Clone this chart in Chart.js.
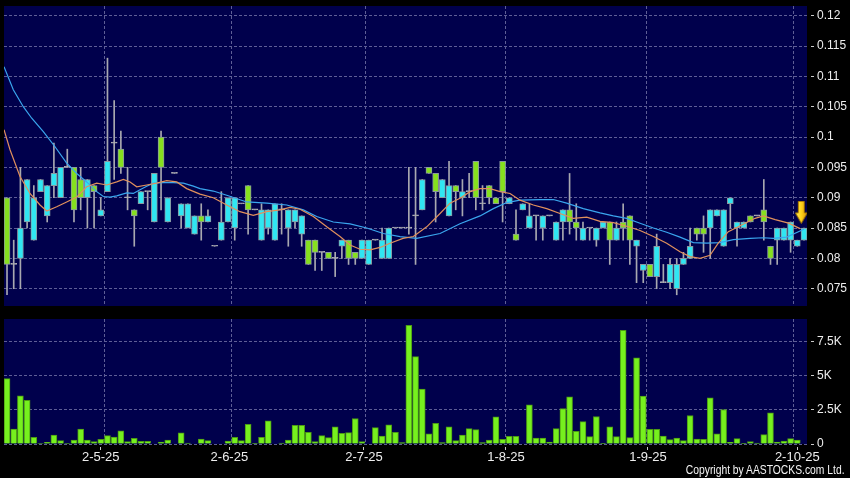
<!DOCTYPE html>
<html><head><meta charset="utf-8">
<script src="https://cdn.jsdelivr.net/npm/chart.js@4/dist/chart.umd.min.js"></script>
<style>
html,body{margin:0;padding:0;background:#000;width:850px;height:478px;overflow:hidden}
canvas{position:absolute;left:0}
#copy{position:absolute;right:5px;top:464px;color:#f4f4f4;font:12px 'Liberation Sans',Arial,sans-serif;line-height:13px;white-space:nowrap;transform:scaleX(0.86);transform-origin:right center}
</style></head><body>
<canvas id="main" width="850" height="310" style="top:0"></canvas>
<canvas id="vol" width="850" height="168" style="top:310px"></canvas>
<div id="copy">Copyright by AASTOCKS.com Ltd.</div>
<script>
// ---- data ----
const open  = [0.090,0.079,0.080,0.086,0.083,0.091,0.087,0.092,0.090,0.095,0.095,0.093,0.090,0.092,0.087,0.091,0.099,0.098,0.090,0.088,
               0.089,0.091,0.086,0.100,0.086,0.094,0.087,0.085,0.084,0.087,0.086,0.082,0.083,0.086,0.085,0.089,0.092,0.088,0.083,0.085,
               0.083,0.088,0.085,0.086,0.084,0.083,0.083,0.081,0.081,0.080,0.082,0.083,0.081,0.080,0.079,0.083,0.080,0.080,0.085,0.085,
               0.085,0.087,0.088,0.095,0.094,0.090,0.087,0.092,0.090,0.091,0.096,0.089,0.092,0.090,0.096,0.089,0.084,0.088,0.085,0.087,
               0.085,0.087,0.083,0.086,0.088,0.086,0.083,0.085,0.083,0.085,0.086,0.083,0.086,0.087,0.082,0.078,0.079,0.077,0.076,0.076,
               0.075,0.079,0.080,0.085,0.085,0.085,0.087,0.082,0.089,0.085,0.085,0.087,0.087,0.088,0.082,0.083,0.083,0.083,0.082,0.083];
const high  = [0.090,0.083,0.095,0.093,0.092,0.093,0.092,0.099,0.095,0.098,0.095,0.095,0.093,0.092,0.090,0.113,0.106,0.101,0.095,0.088,
               0.091,0.091,0.094,0.101,0.090,0.094,0.089,0.089,0.087,0.089,0.088,0.082,0.091,0.090,0.090,0.089,0.092,0.088,0.089,0.088,
               0.089,0.089,0.088,0.088,0.087,0.083,0.083,0.081,0.081,0.081,0.083,0.083,0.081,0.083,0.083,0.083,0.085,0.085,0.085,0.085,
               0.095,0.095,0.093,0.095,0.094,0.093,0.096,0.092,0.093,0.094,0.096,0.092,0.092,0.090,0.096,0.090,0.088,0.089,0.089,0.087,
               0.087,0.087,0.086,0.088,0.094,0.089,0.086,0.085,0.085,0.086,0.086,0.086,0.089,0.087,0.083,0.079,0.079,0.084,0.079,0.080,
               0.080,0.081,0.085,0.085,0.087,0.088,0.088,0.088,0.090,0.086,0.086,0.087,0.087,0.093,0.082,0.085,0.085,0.086,0.083,0.085];
const low   = [0.074,0.075,0.075,0.085,0.083,0.091,0.086,0.090,0.090,0.095,0.086,0.088,0.085,0.085,0.087,0.091,0.093,0.094,0.088,0.082,
               0.089,0.088,0.086,0.088,0.086,0.094,0.085,0.085,0.084,0.083,0.086,0.082,0.083,0.086,0.083,0.089,0.084,0.088,0.083,0.084,
               0.083,0.084,0.082,0.085,0.082,0.079,0.078,0.078,0.080,0.077,0.080,0.079,0.079,0.080,0.079,0.083,0.080,0.080,0.085,0.085,
               0.084,0.079,0.088,0.094,0.086,0.090,0.087,0.088,0.087,0.090,0.088,0.088,0.089,0.089,0.086,0.089,0.083,0.088,0.085,0.083,
               0.083,0.087,0.083,0.083,0.084,0.083,0.083,0.083,0.082,0.085,0.079,0.083,0.083,0.079,0.076,0.076,0.077,0.075,0.076,0.075,
               0.074,0.079,0.080,0.083,0.081,0.080,0.087,0.082,0.085,0.082,0.085,0.086,0.087,0.083,0.079,0.079,0.083,0.081,0.082,0.083];
const close = [0.079,0.079,0.085,0.093,0.090,0.093,0.092,0.094,0.095,0.095,0.088,0.090,0.093,0.091,0.088,0.096,0.099,0.095,0.090,0.087,
               0.091,0.091,0.094,0.095,0.090,0.094,0.089,0.089,0.087,0.086,0.087,0.082,0.086,0.090,0.090,0.089,0.088,0.088,0.088,0.088,
               0.089,0.088,0.088,0.088,0.087,0.079,0.081,0.081,0.080,0.080,0.083,0.080,0.080,0.083,0.083,0.083,0.083,0.085,0.085,0.085,
               0.085,0.087,0.093,0.094,0.091,0.093,0.092,0.091,0.091,0.091,0.090,0.089,0.090,0.089,0.091,0.090,0.083,0.089,0.087,0.087,
               0.087,0.087,0.086,0.088,0.086,0.085,0.085,0.085,0.085,0.086,0.083,0.085,0.085,0.083,0.083,0.079,0.077,0.082,0.076,0.079,
               0.079,0.080,0.082,0.084,0.084,0.088,0.088,0.088,0.090,0.086,0.086,0.086,0.087,0.086,0.080,0.085,0.085,0.086,0.083,0.085];
const volume = [4780,1100,3530,3190,490,40,120,660,245,40, 294,1100,294,170,343,612,515,955,170,416,
                196,196,0,147,294,0,808,73,0,367, 245,0,0,220,490,245,1445,49,490,1690,
                0,73,294,1372,1372,857,170,612,465,1250, 784,833,1862,170,0,1200,588,1396,857,98,
                8673,6394,4018,735,1519,98,1250,245,661,1127, 1053,98,294,1985,343,564,564,0,2866,441,
                441,147,1127,2597,3454,931,1641,539,2009,49, 1250,539,8305,465,6296,3503,1078,1078,588,318,
                441,245,2083,367,343,3381,735,2524,122,392, 49,171,73,686,2279,147,220,392,294,0];
// moving averages as (candle position, value) pairs
const maShortX = [-0.45,0.45,1.94,3.43,4.93,5.93,7.42,8.91,10.41,11.9,13.39,14.89,16.38,17.37,18.37,19.37,20.86,22.35,23.85,25.34,
                  26.83,28.82,30.8,32.81,34.79,36.78,38.78,40.76,42.26,43.75,45.74,47.74,49.72,51.22,52.71,54.2,55.7,57.19,59.13,60.67,
                  62.67,64.66,66.15,67.64,69.14,70.63,72.12,73.62,75.11,76.6,78.59,80.59,82.57,84.56,86.56,88.55,90.53,92.53,94.52,96.51,
                  98.5,100.49,101.99,103.48,104.97,106.2,107.7,109.7,111.7,112.93,114.7,116.7,118.41];
const maShortY = [0.1012,0.0979,0.0935,0.0907,0.0888,0.0878,0.0885,0.0893,0.0901,0.0918,0.0924,0.0921,0.0926,0.0930,0.0926,0.0918,0.0921,0.0924,0.0928,0.0926,
                  0.0915,0.0906,0.0900,0.0888,0.0877,0.0871,0.0877,0.0880,0.0884,0.0881,0.0869,0.0852,0.0836,0.0822,0.0815,0.0814,0.0818,0.0825,0.0833,0.0836,
                  0.0852,0.0874,0.0891,0.0899,0.0910,0.0915,0.0915,0.0910,0.0907,0.0896,0.0888,0.0882,0.0874,0.0866,0.0868,0.0861,0.0859,0.0853,0.0846,0.0836,
                  0.0825,0.0811,0.0803,0.0800,0.0805,0.0825,0.0844,0.0855,0.0866,0.0870,0.0864,0.0858,0.0849];
const maLongX  = [-0.45,0.94,2.43,3.69,5.42,7.17,8.91,10.41,11.9,13.39,14.38,15.38,16.38,17.87,18.86,19.86,20.86,21.85,23.34,24.83,
                  26.33,27.82,28.82,30.8,32.81,35.79,38.78,41.77,44.24,46.24,48.72,51.22,53.71,56.19,58.68,61.18,64.66,67.64,70.63,72.62,
                  74.62,76.6,79.59,81.57,83.57,86.05,88.55,90.53,92.53,94.52,96.51,98.5,100.49,102.48,104.48,106.46,108.45,110.94,112.93,114.43,
                  116.42,118.41,119.01];
const maLongY  = [0.1116,0.1078,0.1050,0.1031,0.1009,0.0984,0.0957,0.0940,0.0926,0.0910,0.0902,0.0901,0.0903,0.0908,0.0907,0.0913,0.0919,0.0924,0.0925,0.0925,
                  0.0924,0.0919,0.0915,0.0911,0.0904,0.0893,0.0891,0.0888,0.0880,0.0869,0.0860,0.0857,0.0850,0.0841,0.0836,0.0833,0.0841,0.0857,0.0870,0.0882,
                  0.0892,0.0896,0.0897,0.0897,0.0891,0.0882,0.0875,0.0870,0.0866,0.0858,0.0850,0.0843,0.0835,0.0826,0.0825,0.0826,0.0831,0.0833,0.0834,0.0833,
                  0.0835,0.0845,0.0848];
const priceTicks = [0.075,0.08,0.085,0.09,0.095,0.1,0.105,0.11,0.115,0.12];
const volTicks = [0,2500,5000,7500];
const volTickLabels = ['0','2.5K','5K','7.5K'];
const monthLabels = ['2-5-25','2-6-25','2-7-25','1-8-25','1-9-25','2-10-25'];
const monthGridPos = [14.5,33.5,53.5,74.5,95.5,117.5];
const monthLabelPos = [14,33.2,53.3,74.5,95.7,118];
const arrowMark = {x:118.6, y:0.0876};

// ---- styling ----
const NAVY='#00004c', GRID='#5e5e96', UP='#30e6f2', DOWN='#86e01e', DOJI='#b0b0b4', EDGE='#8a98a0', WICK='#a8a8b0';
const VOLFILL='#76f01e', VOLEDGE='#4c9a14', LBL='#eeeeee';
const X_MIN=-0.45, X_MAX=119.45;
const fontY={family:'Liberation Sans', size:12};
const fontX={family:'Liberation Sans', size:13};
const noPad = s => { s.paddingTop=0; s.paddingBottom=0; s.paddingLeft=0; s.paddingRight=0; };

const bg={id:'bg',beforeDraw(c){const {ctx,chartArea:a}=c;ctx.save();ctx.fillStyle='#000';ctx.fillRect(0,0,c.width,c.height);
  ctx.fillStyle=NAVY;ctx.fillRect(a.left,a.top,a.right-a.left,a.bottom-a.top);ctx.restore();}};

function arrowImg(){const c=document.createElement('canvas');c.width=13;c.height=23;const g=c.getContext('2d');
  const gr=g.createLinearGradient(0,0,13,0);gr.addColorStop(0,'#fff060');gr.addColorStop(0.5,'#ffd21a');gr.addColorStop(1,'#d89000');
  g.beginPath();g.moveTo(3.5,0.5);g.lineTo(9.5,0.5);g.lineTo(9.5,12);g.lineTo(12.5,12);g.lineTo(6.5,22.5);g.lineTo(0.5,12);g.lineTo(3.5,12);g.closePath();
  g.fillStyle=gr;g.fill();g.strokeStyle='#a07000';g.lineWidth=1;g.stroke();return c;}

const idx = open.map((_,i)=>i);
const isDoji = i => open[i]===close[i];
const bodyCol = i => close[i]>open[i]?UP:(close[i]<open[i]?DOWN:DOJI);
const fmtP = v => String(+(+v).toFixed(3));

const common = {responsive:false, animation:false, devicePixelRatio:1, events:[],
  plugins:{legend:{display:false}, tooltip:{enabled:false}}};

new Chart(document.getElementById('main'),{
  type:'bar',
  data:{datasets:[
    {type:'bar', data: idx.map(i=>({x:i,y:[low[i],high[i]]})), backgroundColor:WICK, barThickness:1, grouped:false, order:4},
    {type:'bar', data: idx.map(i=>({x:i,y:[open[i],close[i]]})),
      backgroundColor: c=>bodyCol(c.dataIndex), borderColor: c=>isDoji(c.dataIndex)?DOJI:EDGE,
      borderWidth:1, borderSkipped:false, barThickness:6, minBarLength:1, grouped:false, order:3},
    {type:'line', data: maLongX.map((x,k)=>({x,y:maLongY[k]})), borderColor:'#3aa6ee', borderWidth:1.2, pointRadius:0, tension:0, order:2},
    {type:'line', data: maShortX.map((x,k)=>({x,y:maShortY[k]})), borderColor:'#e0905c', borderWidth:1.2, pointRadius:0, tension:0, order:1},
    {type:'scatter', data:[arrowMark], pointStyle:arrowImg(), pointRadius:1, order:0}
  ]},
  options:{...common,
    layout:{autoPadding:false, padding:{left:4,top:6,right:0,bottom:4}},
    scales:{
      x:{type:'linear', min:X_MIN, max:X_MAX, offset:false,
         afterBuildTicks:s=>{s.ticks=monthGridPos.map(v=>({value:v}));},
         afterFit:s=>{s.height=0; noPad(s);},
         ticks:{display:false}, grid:{color:GRID, drawTicks:false, offset:false}, border:{display:false, dash:[3,2]}},
      y:{type:'linear', position:'right', min:0.07215, max:0.1216,
         afterBuildTicks:s=>{s.ticks=priceTicks.map(v=>({value:v}));},
         afterFit:s=>{s.width=43; noPad(s);},
         ticks:{color:LBL, font:fontY, padding:3, autoSkip:false, callback:v=>fmtP(v)},
         grid:{color:GRID, tickColor:'#c8c8c8', tickLength:7, tickBorderDash:[0,4,3,20]},
         border:{display:false, dash:[3,2]}}
    }
  },
  plugins:[bg]
});

new Chart(document.getElementById('vol'),{
  type:'bar',
  data:{datasets:[
    {data: idx.map(i=>({x:i,y:volume[i]})), backgroundColor:VOLFILL, borderColor:VOLEDGE, borderWidth:1, borderSkipped:'start', barThickness:6, grouped:false}
  ]},
  options:{...common,
    layout:{autoPadding:false, padding:{left:4,top:9,right:0,bottom:0}},
    scales:{
      x:{type:'linear', min:X_MIN, max:X_MAX, offset:false, weight:0,
         afterBuildTicks:s=>{s.ticks=monthGridPos.map(v=>({value:v}));},
         afterFit:s=>{s.height=0; noPad(s);},
         ticks:{display:false}, grid:{color:GRID, drawTicks:false, offset:false}, border:{display:false, dash:[3,2]}},
      x2:{type:'linear', position:'bottom', min:X_MIN, max:X_MAX, offset:false, weight:1,
         afterBuildTicks:s=>{s.ticks=monthLabelPos.map(v=>({value:v}));},
         afterFit:s=>{s.height=34; noPad(s);},
         ticks:{color:LBL, font:fontX, padding:0, autoSkip:false, maxRotation:0,
                callback:(v,k)=>monthLabels[k]},
         grid:{drawOnChartArea:false, offset:false, tickColor:'#c8c8c8', tickLength:6, tickBorderDash:[0,3,3,20]},
         border:{display:false}},
      y:{type:'linear', position:'right', min:0, max:9140,
         afterBuildTicks:s=>{s.ticks=volTicks.map(v=>({value:v}));},
         afterFit:s=>{s.width=43; noPad(s);},
         ticks:{color:LBL, font:fontY, padding:3, autoSkip:false, callback:(v,k)=>volTickLabels[k]},
         grid:{color:GRID, tickColor:'#c8c8c8', tickLength:7, tickBorderDash:[0,4,3,20]},
         border:{display:false, dash:[3,2]}}
    }
  },
  plugins:[bg]
});
</script>
</body></html>
